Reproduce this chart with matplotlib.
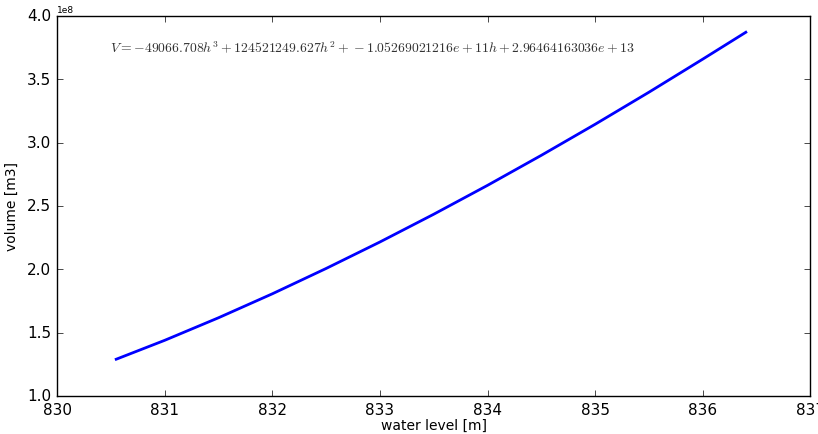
import numpy as np
import matplotlib
matplotlib.use('Agg')
import matplotlib.pyplot as plt

plt.style.use('classic')

# water level [m] and volume [m3]
level = [830.55, 831.0, 831.5, 832.0, 832.5, 833.0, 833.5, 834.0, 834.5, 835.0, 835.5, 836.0, 836.4]
volume = [1.29e8, 1.439e8, 1.617e8, 1.806e8, 2.006e8, 2.215e8, 2.434e8, 2.662e8, 2.899e8, 3.144e8, 3.397e8, 3.658e8, 3.87e8]

eq = r'$V = -49066.708h^3 + 124521249.627h^2 + -1.05269021216e+11h + 2.96464163036e+13$'

fig = plt.figure(figsize=(8.18, 4.35), dpi=100)
ax = fig.add_axes([0.0697, 0.0874, 0.921, 0.874])
ax.plot(level, volume, 'b-', lw=2)
ax.set_xlim(830, 837)
ax.set_ylim(1.0e8, 4.0e8)
ax.xaxis.get_major_formatter().set_useOffset(False)
ax.tick_params(labelsize=11)
ax.yaxis.get_offset_text().set_fontsize(6.5)
ax.text(830.49, 3.755e8, eq, fontsize=9.9, va='center', color='#333333')
ax.set_xlabel('water level [m]', fontsize=10, labelpad=1)
ax.set_ylabel('volume [m3]', fontsize=10, labelpad=6)

fig.savefig('out.png', dpi=100)
